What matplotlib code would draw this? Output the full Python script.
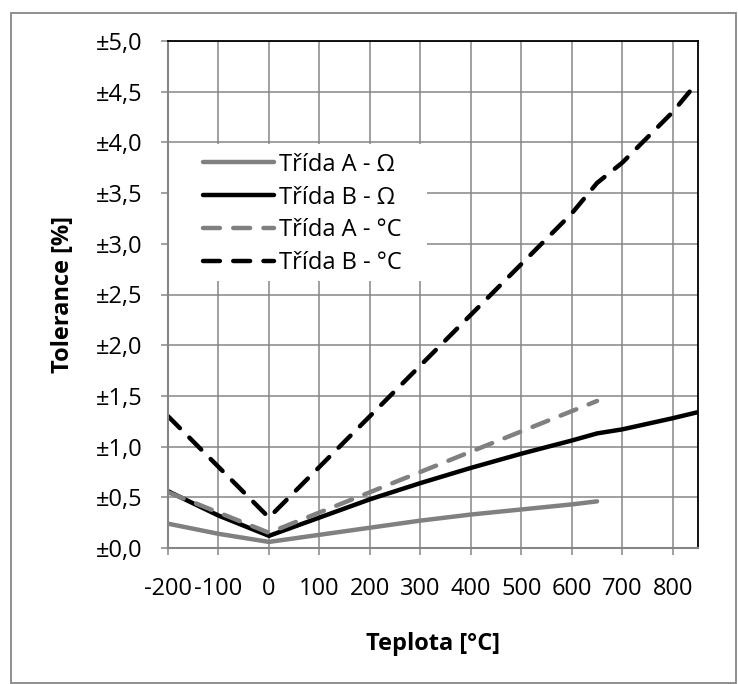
import matplotlib
matplotlib.use("Agg")
import matplotlib.pyplot as plt
from matplotlib.patches import Rectangle
from matplotlib.ticker import FuncFormatter, MultipleLocator

# tolerance curves (IEC 751)
t_a = [-200, -100, 0, 100, 200, 300, 400, 500, 600, 650]
t_b = [-200, -100, 0, 100, 200, 300, 400, 500, 600, 650, 700, 800, 850]
a_ohm = [0.24, 0.14, 0.06, 0.13, 0.20, 0.27, 0.33, 0.38, 0.43, 0.46]
b_ohm = [0.56, 0.32, 0.12, 0.30, 0.48, 0.64, 0.79, 0.93, 1.06, 1.13, 1.17, 1.28, 1.34]
a_deg = [0.55, 0.35, 0.15, 0.35, 0.55, 0.75, 0.95, 1.15, 1.35, 1.45]
b_deg = [1.3, 0.8, 0.3, 0.8, 1.3, 1.8, 2.3, 2.8, 3.3, 3.6, 3.8, 4.3, 4.6]
labels = ["Třída A - Ω", "Třída B - Ω", "Třída A - °C", "Třída B - °C"]

GRAY = "#868686"
FS = 17
plt.rcParams["font.family"] = ["Open Sans", "DejaVu Sans"]

W, H = 738, 684
fig = plt.figure(figsize=(W / 100, H / 100), dpi=100)
# chart-area border
fig.patches.append(Rectangle((11 / W, 1 / H), 725 / W, 670 / H, transform=fig.transFigure,
                             fill=False, edgecolor=GRAY, lw=1.3))
# plot area: x 168..698 px, y 41..548 px
ax = fig.add_axes([168 / W, 1 - 548 / H, 530 / W, 507 / H])

lw = 3.2
ax.plot(t_a, a_ohm, color="#808080", lw=lw, solid_capstyle="round", label=labels[0])
ax.plot(t_b, b_ohm, color="black", lw=lw, solid_capstyle="round", label=labels[1])
ax.plot(t_a, a_deg, color="#808080", lw=lw, dashes=(3.8, 3.0), dash_capstyle="round", label=labels[2])
ax.plot(t_b, b_deg, color="black", lw=lw, dashes=(3.8, 3.0), dash_capstyle="round", label=labels[3])

ax.set_xlim(-200, 850)
ax.set_ylim(0, 5)
ax.xaxis.set_major_locator(MultipleLocator(100))
ax.yaxis.set_major_locator(MultipleLocator(0.5))
ax.yaxis.set_major_formatter(FuncFormatter(lambda v, p: "±" + f"{v:.1f}".replace(".", ",")))
ax.xaxis.set_major_formatter(FuncFormatter(lambda v, p: f"{int(v)}"))
ax.grid(True, color=GRAY, lw=1.1)
ax.set_axisbelow(True)
ax.tick_params(axis="both", direction="out", length=5, width=1.1, color=GRAY, labelsize=FS)
ax.tick_params(axis="y", pad=13.5)
ax.tick_params(axis="x", pad=16)
for s in ("left", "bottom"):
    ax.spines[s].set_color(GRAY)
    ax.spines[s].set_linewidth(1.5)
for s in ("top", "right"):
    ax.spines[s].set_color("black")
    ax.spines[s].set_linewidth(1.3)

ax.set_xlabel("Teplota [°C]", fontsize=FS, fontweight="bold")
ax.xaxis.set_label_coords(0.5, -0.165)
ax.set_ylabel("Tolerance [%]", fontsize=FS, fontweight="bold")
ax.yaxis.set_label_coords(-0.175, 0.5)

# legend background (Excel legend box hides the grid)
ax.add_patch(Rectangle((-200, 2.63), 514, 1.35, facecolor="white", edgecolor="none", zorder=1.5))
leg = ax.legend(loc="upper left", bbox_to_anchor=(-130, 3.90), bbox_transform=ax.transData,
                frameon=False, fontsize=FS, handlelength=3.0, handletextpad=0.2,
                labelspacing=0.38, borderaxespad=0, borderpad=0)

fig.savefig("out.png", dpi=100)
